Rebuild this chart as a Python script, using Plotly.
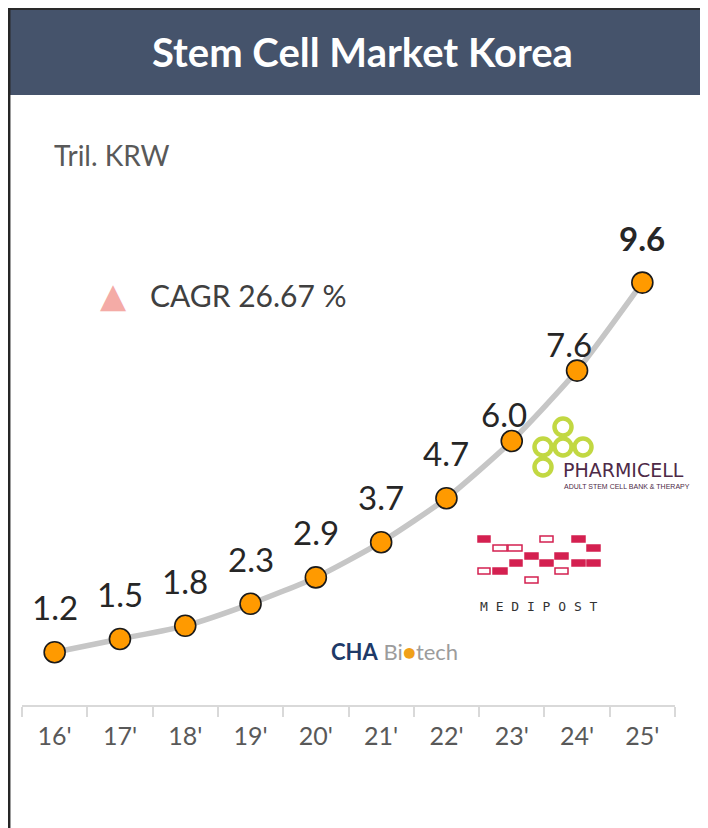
import plotly.graph_objects as go

# ---- data ----
years = ["16'", "17'", "18'", "19'", "20'", "21'", "22'", "23'", "24'", "25'"]
market = [1.2, 1.5, 1.8, 2.3, 2.9, 3.7, 4.7, 6.0, 7.6, 9.6]
labels = ["1.2", "1.5", "1.8", "2.3", "2.9", "3.7", "4.7", "6.0", "7.6", "9.6"]
unit_label = "Tril. KRW"
cagr_label = "CAGR 26.67 %"
title_text = "Stem Cell Market Korea"

W, H = 708, 828
OFF = 8  # page offset of the figure (body margin)
L, R, T, B = 14, 41, 169, 131
PW, PH = W - L - R, H - T - B


def px(x):  # page x -> paper
    return (x - OFF - L) / PW


def py(y):  # page y -> paper
    return (H - B - (y - OFF)) / PH


FONT = "Lato"

fig = go.Figure()
fig.add_trace(go.Scatter(
    x=years, y=market, mode="lines+markers",
    line=dict(color="#C6C6C6", width=5.5, shape="spline", smoothing=0.6),
    marker=dict(size=21, color="#FF9A00", line=dict(color="#1a1a1a", width=1.6)),
    hoverinfo="x+y", showlegend=False,
))

annotations = []
# data labels
for i, (yr, v, lab) in enumerate(zip(years, market, labels)):
    xs, ys = 0, 45
    if i in (7, 8):
        xs, ys = -8, 27
    txt = f"<b>{lab}</b>" if i == len(market) - 1 else lab
    annotations.append(dict(x=yr, y=v, xref="x", yref="y", text=txt, showarrow=False,
                            xshift=xs, yshift=ys, xanchor="center", yanchor="middle",
                            font=dict(family=FONT, size=33, color="#262626")))


def page_text(x, y, text, size, color, family=FONT, anchor="center"):
    annotations.append(dict(x=px(x), y=py(y), xref="paper", yref="paper", text=text,
                            showarrow=False, xanchor=anchor, yanchor="middle",
                            font=dict(family=family, size=size, color=color)))


page_text(362, 52, f"<b>{title_text}</b>", 40, "white")
page_text(52, 155, unit_label, 28, "#595959", anchor="left")
page_text(113, 295, "▲", 34, "#F4ABA6", family="DejaVu Sans")
page_text(148, 295, cagr_label, 30, "#404040", anchor="left")

# ---- logos (decoration) ----
page_text(561, 470, "PHARMICELL", 19, "#4E2A47", family="DejaVu Sans", anchor="left")
page_text(562, 486, "ADULT STEM CELL BANK &amp; THERAPY", 7, "#4E2A47",
          family="Liberation Sans Narrow, Liberation Sans", anchor="left")
page_text(539, 606, "M E D I P O S T", 13, "#333333", family="DejaVu Sans Mono")
page_text(394, 651,
          '<span style="color:#1E3A68"><b>CHA</b></span>'
          '<span style="color:#9C9C9C"> Bi</span>'
          '<span style="color:#F0A018">●</span>'
          '<span style="color:#9C9C9C">tech</span>', 22, "#9C9C9C")

shapes = []
# header band
shapes.append(dict(type="rect", xref="paper", yref="paper", x0=px(10), x1=px(716), y0=py(95), y1=py(10),
                   fillcolor="#45536B", line=dict(width=0), layer="below"))
# top border
shapes.append(dict(type="line", xref="paper", yref="paper", x0=px(8), x1=px(716), y0=py(9), y1=py(9),
                   line=dict(color="#2A2A2A", width=2)))
# left border
shapes.append(dict(type="line", xref="paper", yref="paper", x0=px(9.2), x1=px(9.2), y0=py(8), y1=py(836),
                   line=dict(color="#262626", width=2.5)))

# pharmicell rings
green = "#C2D842"
ring_centres = [(563, 427), (543, 447), (563, 447), (583, 447), (543, 467)]
for a, b in [((563, 427), (563, 447)), ((543, 447), (583, 447)), ((543, 447), (543, 467))]:
    shapes.append(dict(type="line", xref="paper", yref="paper", x0=px(a[0]), x1=px(b[0]),
                       y0=py(a[1]), y1=py(b[1]), line=dict(color=green, width=7)))
for cx, cy in ring_centres:
    r = 8.5
    shapes.append(dict(type="circle", xref="paper", yref="paper", x0=px(cx - r), x1=px(cx + r),
                       y0=py(cy + r), y1=py(cy - r), fillcolor="white", line=dict(color=green, width=4.5)))

# medipost pills: (x0, x1, y, filled)
red = "#D42050"
pills = [(478, 490, 539, True), (540, 553, 539, False), (572, 585, 539, True),
         (493, 507, 548, False), (508, 522, 548, False), (587, 600, 548, True),
         (525, 538, 556, True), (555, 568, 556, True),
         (510, 522, 563, True), (540, 553, 563, True), (572, 585, 563, True), (587, 600, 563, True),
         (478, 490, 571, False), (493, 507, 571, True), (555, 568, 571, False),
         (525, 538, 580, False)]
for x0, x1, yc, filled in pills:
    shapes.append(dict(type="rect", xref="paper", yref="paper", x0=px(x0), x1=px(x1),
                       y0=py(yc + 3), y1=py(yc - 3),
                       fillcolor=red if filled else "white", line=dict(color=red, width=1.5)))

fig.update_layout(
    width=W, height=H,
    margin=dict(l=L, r=R, t=T, b=B),
    paper_bgcolor="white", plot_bgcolor="white",
    xaxis=dict(type="category", range=[-0.5, 9.5], showgrid=False, zeroline=False,
               showline=True, linecolor="#D9D9D9", linewidth=1.5,
               ticks="outside", tickson="boundaries", ticklen=10, tickcolor="#D9D9D9", tickwidth=1.5,
               ticklabelstandoff=8,
               tickfont=dict(family=FONT, size=25, color="#595959"), fixedrange=True),
    yaxis=dict(range=[0, 12], visible=False, fixedrange=True),
    annotations=annotations, shapes=shapes,
)

fig.write_html("out.html")
